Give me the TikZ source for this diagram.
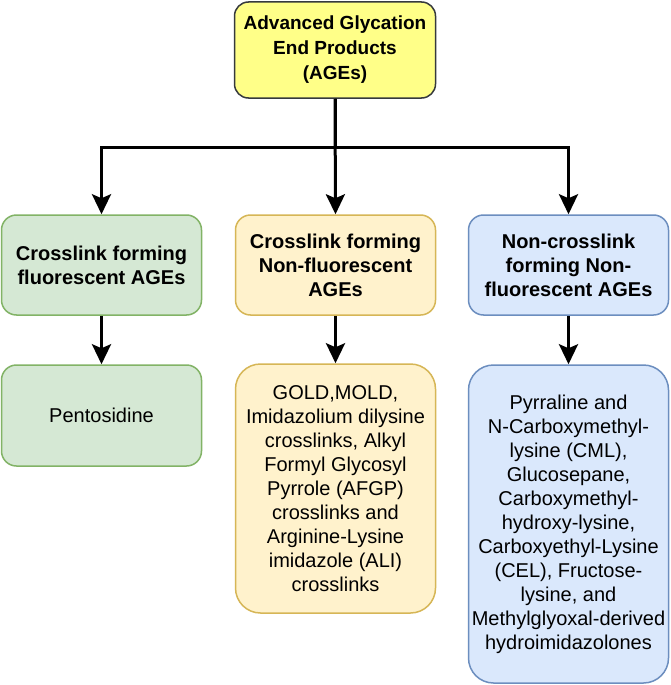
\documentclass[tikz,border=0pt]{standalone}
\usepackage{fontspec}
\setmainfont{Liberation Sans}
\usetikzlibrary{arrows.meta}
\definecolor{topfill}{HTML}{FFFF88}
\definecolor{topdraw}{HTML}{36393D}
\definecolor{gfill}{HTML}{D5E8D4}
\definecolor{gdraw}{HTML}{82B366}
\definecolor{yfill}{HTML}{FFF2CC}
\definecolor{ydraw}{HTML}{D6B656}
\definecolor{bfill}{HTML}{DAE8FC}
\definecolor{bdraw}{HTML}{6C8EBF}
\tikzset{
  box/.style={draw, line width=1.5pt, align=center, inner sep=0pt,
    minimum width=200pt, rounded corners=15pt},
  topbox/.style={box, fill=topfill, draw=topdraw, minimum width=201pt,
    minimum height=96pt, rounded corners=14pt,
    font=\bfseries\fontsize{19}{25}\selectfont},
  midbox/.style={box, minimum height=100pt,
    font=\bfseries\fontsize{20}{24}\selectfont},
  lowbox/.style={box, font=\fontsize{20}{24}\selectfont},
  gbox/.style={fill=gfill, draw=gdraw},
  ybox/.style={fill=yfill, draw=ydraw},
  bbox/.style={fill=bfill, draw=bdraw},
  arr/.style={line width=3pt, -{Stealth[length=20pt, width=19pt, inset=4pt]}}
}
\begin{document}
\begin{tikzpicture}[x=1pt, y=-1pt]
\fill[white] (0,0) rectangle (671,685);
\useasboundingbox (0,0) rectangle (671,685);

\node[topbox] (top) at (335,50) {Advanced Glycation\\End Products\\(AGEs)};

\node[midbox, gbox] (g2) at (101.5,265) {Crosslink forming\\fluorescent AGEs};
\node[midbox, ybox] (y2) at (335.5,265) {Crosslink forming\\Non-fluorescent\\AGEs};
\node[midbox, bbox] (b2) at (568.5,265) {Non-crosslink\\forming Non-\\fluorescent AGEs};

\node[lowbox, gbox, minimum height=101pt] (g3) at (101.5,415.5) {Pentosidine};
\node[lowbox, ybox, minimum height=249pt, rounded corners=25pt] (y3) at (335.5,488.5)
  {GOLD,MOLD,\\Imidazolium dilysine\\crosslinks, Alkyl\\Formyl Glycosyl\\Pyrrole (AFGP)\\crosslinks and\\Arginine-Lysine\\imidazole (ALI)\\crosslinks};
\node[lowbox, bbox, minimum height=318pt, rounded corners=25pt] (b3) at (568.5,524)
  {Pyrraline and\\N-Carboxymethyl-\\lysine (CML),\\Glucosepane,\\Carboxymethyl-\\hydroxy-lysine,\\Carboxyethyl-Lysine\\(CEL), Fructose-\\lysine, and\\Methylglyoxal-derived\\hydroimidazolones};

\coordinate (bus) at (335,147);

\draw[arr] (top.south) -- (top.south |- bus) -| (g2.north);
\draw[arr] (top.south) -- (top.south |- bus) -| (b2.north);
\draw[arr] (top.south) -- (y2.north);

\draw[arr] (g2.south) -- (g3.north);
\draw[arr] (y2.south) -- (y3.north);
\draw[arr] (b2.south) -- (b3.north);
\end{tikzpicture}
\end{document}
